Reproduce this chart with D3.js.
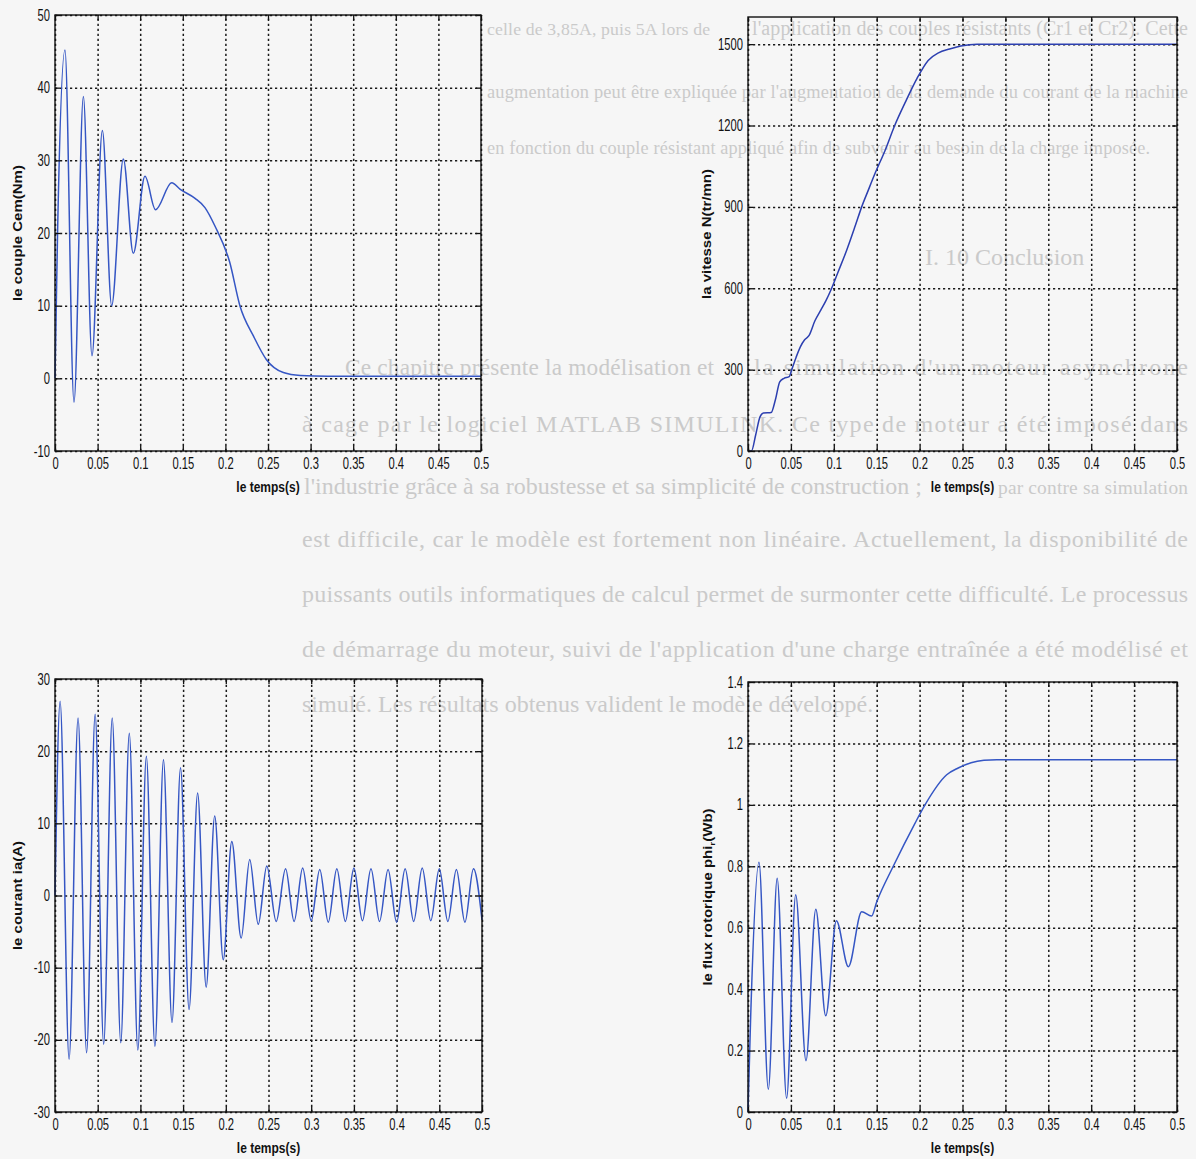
<!DOCTYPE html>
<html><head><meta charset="utf-8">
<script src="https://cdn.jsdelivr.net/npm/d3@7"></script>
<style>html,body{margin:0;padding:0;background:#f6f6f6}svg{display:block}</style>
</head><body>
<svg id="c" width="1196" height="1159"></svg>
<script>
// ---------- data ----------
const xTickVals = [0,0.05,0.1,0.15,0.2,0.25,0.3,0.35,0.4,0.45,0.5];
const xTickLabels = ["0","0.05","0.1","0.15","0.2","0.25","0.3","0.35","0.4","0.45","0.5"];
const cemTicks = [-10,0,10,20,30,40,50];
const speedTicks = [0,300,600,900,1200,1500];
const iaTicks = [-30,-20,-10,0,10,20,30];
const fluxTicks = [0,0.2,0.4,0.6,0.8,1,1.2,1.4];
const fluxTickLabels = ["0","0.2","0.4","0.6","0.8","1","1.2","1.4"];

// electromagnetic torque Cem (Nm)
const cemT = [0,0.003,0.0117,0.0223,0.0333,0.0434,0.0556,0.0665,0.0802,0.0919,0.1056,0.118,0.137,0.147,0.164,0.176,0.188,0.205,0.217,0.233,0.248,0.268,0.288,0.32,0.4,0.5];
const cemV = [0,20,45.2,-3.3,38.8,3.1,34.1,10.0,30.2,17.2,27.8,23.2,26.9,26.0,24.8,23.5,20.9,16.0,10.0,5.8,2.6,0.8,0.4,0.3,0.3,0.3];

// speed N (tr/mn)
const speedT = [0,0.004,0.009,0.014,0.018,0.027,0.032,0.037,0.042,0.048,0.051,0.056,0.061,0.066,0.071,0.078,0.085,0.091,0.0975,0.105,0.115,0.125,0.1325,0.14,0.148,0.16,0.171,0.184,0.197,0.21,0.222,0.235,0.248,0.267,0.3,0.5];
const speedV = [0,0,60,126,140,142,190,255,268,274,300,345,384,410,425,480,520,555,600,660,740,830,900,960,1023,1110,1200,1290,1374,1440,1468,1482,1493,1500,1500,1500];

// stator current ia (A)
const iaT = [0,0.006,0.0165,0.027,0.037,0.047,0.057,0.067,0.077,0.087,0.097,0.107,0.117,0.127,0.137,0.147,0.157,0.167,0.177,0.187,0.197,0.207,0.218,0.228,0.238,0.248,0.259,0.27,0.28,0.29,0.30,0.31,0.32,0.33,0.34,0.35,0.36,0.37,0.38,0.39,0.40,0.41,0.42,0.43,0.44,0.45,0.46,0.47,0.48,0.49,0.50];
const iaV = [0,26.9,-22.7,24.6,-21.8,25.1,-20.6,24.6,-20.4,22.5,-21.4,19.3,-20.9,18.8,-17.6,17.7,-15.8,14.2,-12.7,11.0,-8.9,7.5,-5.9,5.0,-4.0,4.1,-3.6,3.7,-3.6,3.8,-3.5,3.6,-3.7,3.7,-3.6,3.8,-3.5,3.7,-3.6,3.6,-3.7,3.7,-3.6,3.8,-3.5,3.7,-3.6,3.6,-3.7,3.7,-3.4];

// rotor flux phi_r (Wb)
const fluxT = [0,0.003,0.0128,0.0237,0.034,0.045,0.0556,0.0676,0.079,0.0906,0.103,0.117,0.1325,0.144,0.15,0.1693,0.1946,0.2063,0.2316,0.245,0.26,0.275,0.29,0.5];
const fluxV = [0,0.3,0.813,0.074,0.761,0.045,0.707,0.167,0.66,0.313,0.623,0.473,0.652,0.638,0.684,0.8,0.94,1.0,1.098,1.12,1.137,1.145,1.147,1.147];

// faint show-through page text (pieces of each line)
const pageText = [
 "celle de 3,85A, puis 5A lors de",
 "l'application des couples résistants (Cr1 et Cr2). Cette",
 "augmentation peut être expliquée par l'augmentation de la demande du courant de la machine",
 "en fonction du couple résistant appliqué afin de subvenir au besoin de la charge imposée.",
 "I. 10 Conclusion",
 "Ce chapitre présente la modélisation et",
 "la simulation d'un moteur asynchrone",
 "à cage par le logiciel MATLAB SIMULINK. Ce type de moteur a été imposé dans",
 "l'industrie grâce à sa robustesse et sa simplicité de construction ;",
 "par contre sa simulation",
 "est difficile, car le modèle est fortement non linéaire. Actuellement, la disponibilité de",
 "puissants outils informatiques de calcul permet de surmonter cette difficulté. Le processus",
 "de démarrage du moteur, suivi de l'application d'une charge entraînée a été modélisé et",
 "simulé. Les résultats obtenus valident le modèle développé."
];

// ---------- layout ----------
const svg = d3.select("#c");
svg.append("rect").attr("width",1196).attr("height",1159).attr("fill","#f6f6f6");

const textLayout = [
 {y:35,x0:487,x1:710,fs:20},{y:35,x0:752,x1:1188,fs:20},
 {y:98,x0:487,x1:1188,fs:20},{y:154,x0:487,x1:1150,fs:20},
 {y:265,x0:925,x1:null,fs:24},
 {y:375,x0:345,x1:714,fs:24},{y:375,x0:754,x1:1188,fs:24},
 {y:432,x0:302,x1:1188,fs:24},
 {y:494,x0:304,x1:922,fs:24},{y:494,x0:998,x1:1188,fs:24},
 {y:547,x0:302,x1:1188,fs:24},{y:602,x0:302,x1:1188,fs:24},
 {y:657,x0:302,x1:1188,fs:24},{y:712,x0:302,x1:null,fs:24}
];
const bg = svg.append("g");
pageText.forEach((s,i)=>{
  const L = textLayout[i];
  const t = bg.append("text").attr("x",L.x0).attr("y",L.y)
    .attr("font-family","Liberation Serif, serif").attr("font-size",L.fs)
    .attr("fill","#cacaca").text(s);
  if (L.x1) {
    const target = L.x1-L.x0;
    let nat = t.node().getComputedTextLength();
    if (nat > target) {
      t.attr("font-size", (L.fs*target/nat*0.98).toFixed(2));
      nat = t.node().getComputedTextLength();
    }
    if (nat < target) t.attr("textLength",target).attr("lengthAdjust","spacing");
  }
});

const panels = [
 {x0:55,x1:481,y0:15,y1:451,dom:[-10,50],ticks:cemTicks,labels:cemTicks.map(String),T:cemT,V:cemV,ylab:"le couple Cem(Nm)",ylx:17,col:"#3556c4"},
 {x0:748,x1:1177,y0:17,y1:451,dom:[0,1600],ticks:speedTicks,labels:speedTicks.map(String),T:speedT,V:speedV,ylab:"la vitesse N(tr/mn)",ylx:706,col:"#2c3fb0"},
 {x0:55,x1:482,y0:679,y1:1112,dom:[-30,30],ticks:iaTicks,labels:iaTicks.map(String),T:iaT,V:iaV,ylab:"le courant ia(A)",ylx:17,col:"#3556c4"},
 {x0:748,x1:1177,y0:682,y1:1112,dom:[0,1.4],ticks:fluxTicks,labels:fluxTickLabels,T:fluxT,V:fluxV,ylab:"flux",ylx:707,col:"#3556c4"}
];

const SX = 0.7; // horizontal squeeze of scanned glyphs

panels.forEach(p=>{
  const x = d3.scaleLinear().domain([0,0.5]).range([p.x0,p.x1]);
  const y = d3.scaleLinear().domain(p.dom).range([p.y1,p.y0]);
  const g = svg.append("g");
  const w = p.x1-p.x0, h = p.y1-p.y0;

  // grid (dotted)
  const gxg = g.append("g").attr("transform",`translate(0,${p.y1})`)
    .call(d3.axisBottom(x).tickValues(xTickVals).tickSize(-h).tickFormat(""));
  const gyg = g.append("g").attr("transform",`translate(${p.x0},0)`)
    .call(d3.axisLeft(y).tickValues(p.ticks).tickSize(-w).tickFormat(""));
  [gxg,gyg].forEach(a=>{
    a.select(".domain").remove();
    a.selectAll("line").attr("stroke","#1a1a1a").attr("stroke-width",1.5).attr("stroke-dasharray","2.2,2.8");
  });

  // data line
  const pts = p.T.map((t,i)=>[t,p.V[i]]);
  g.append("path").datum(pts)
    .attr("d",d3.line().x(d=>x(d[0])).y(d=>y(d[1])).curve(d3.curveMonotoneX))
    .attr("fill","none").attr("stroke",p.col).attr("stroke-width",1.5);

  // inward ticks on all sides
  const tk = [
    [d3.axisBottom(x).tickValues(xTickVals),`translate(0,${p.y1})`],
    [d3.axisTop(x).tickValues(xTickVals),`translate(0,${p.y0})`],
    [d3.axisLeft(y).tickValues(p.ticks),`translate(${p.x0},0)`],
    [d3.axisRight(y).tickValues(p.ticks),`translate(${p.x1},0)`]
  ];
  tk.forEach(([ax,tr])=>{
    const a = g.append("g").attr("transform",tr).call(ax.tickSize(-5).tickFormat(""));
    a.select(".domain").remove();
    a.selectAll("line").attr("stroke","#111").attr("stroke-width",1.3);
  });

  // box
  g.append("rect").attr("x",p.x0).attr("y",p.y0).attr("width",w).attr("height",h)
    .attr("fill","none").attr("stroke","#111").attr("stroke-width",1.4);

  // tick labels
  const xl = g.append("g").attr("transform",`translate(0,${p.y1})`)
    .call(d3.axisBottom(x).tickValues(xTickVals).tickFormat((d,i)=>xTickLabels[i]).tickSize(0).tickPadding(7));
  xl.select(".domain").remove();
  xl.selectAll("text").attr("font-family","Liberation Sans, Arial, sans-serif").attr("font-size",16)
    .attr("fill","#111").attr("transform",`scale(${SX},1)`);

  const yl = g.append("g").attr("transform",`translate(${p.x0},0)`)
    .call(d3.axisLeft(y).tickValues(p.ticks).tickFormat((d,i)=>p.labels[i]).tickSize(0).tickPadding(5));
  yl.select(".domain").remove();
  yl.selectAll("text").attr("font-family","Liberation Sans, Arial, sans-serif").attr("font-size",16)
    .attr("fill","#111").attr("x",-5/SX).attr("transform",`scale(${SX},1)`);

  // x label
  g.append("text").attr("transform",`translate(${(p.x0+p.x1)/2},${p.y1+41}) scale(0.8,1)`)
    .attr("text-anchor","middle").attr("font-family","Liberation Sans, Arial, sans-serif")
    .attr("font-weight","bold").attr("font-size",15).attr("fill","#111").text("le temps(s)");

  // y label
  const yt = g.append("text").attr("transform",`translate(${p.ylx+5},${(p.y0+p.y1)/2}) scale(0.8,1) rotate(-90)`)
    .attr("text-anchor","middle").attr("font-family","Liberation Sans, Arial, sans-serif")
    .attr("font-weight","bold").attr("font-size",15).attr("fill","#111");
  if (p.ylab === "flux") {
    yt.append("tspan").text("le flux rotorique phi");
    yt.append("tspan").attr("font-size",10).attr("dy",4).text("r");
    yt.append("tspan").attr("dy",-4).text("(Wb)");
  } else yt.text(p.ylab);
});
</script>
</body></html>
